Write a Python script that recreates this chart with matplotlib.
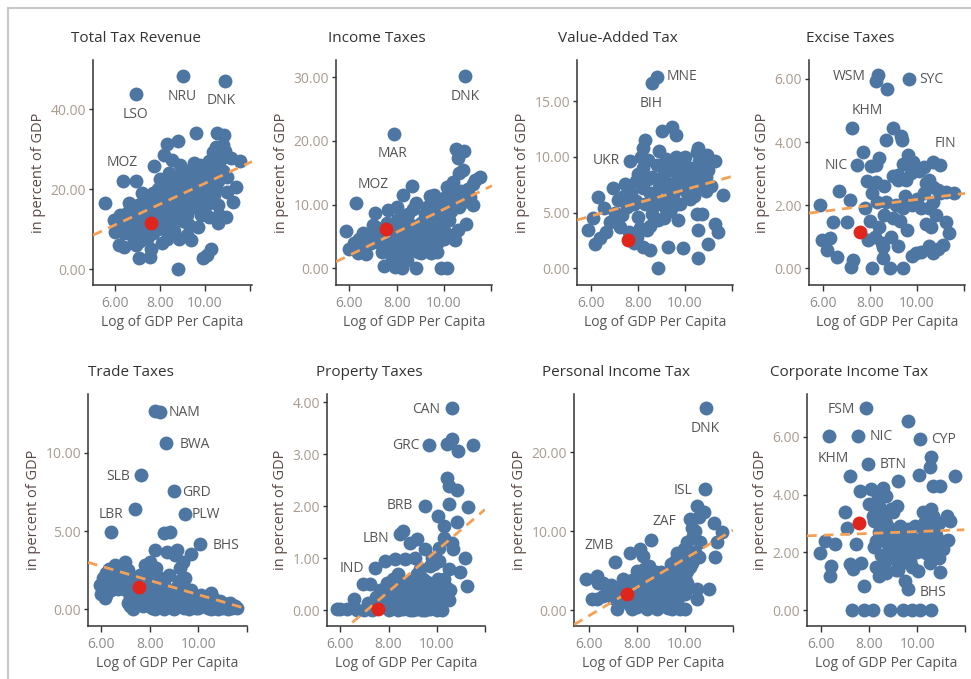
import matplotlib
matplotlib.use("Agg")
import matplotlib.pyplot as plt
from matplotlib.lines import Line2D
import numpy as np

plt.rcParams["font.family"] = ["Open Sans", "DejaVu Sans"]

# Log of GDP per capita (x) against tax share of GDP (y), one list per tax type
total_pts = [
    (6.9, 43.7), (9.0, 48.4), (10.9, 47.1), (5.55, 16.5), (6.33, 22.1), (6.93, 22.1),
    (8.79, 0.0), (7.05, 2.9), (7.54, 3.1), (9.89, 2.9), (10.11, 3.6), (10.29, 5.2),
    (9.62, 34.0), (10.53, 34.0), (10.86, 33.6), (8.29, 31.2), (8.79, 32.1), (11.16, 27.7),
    (11.56, 27.1), (10.34, 29.4), (11.0, 19.4), (11.38, 20.6), (11.23, 16.9), (10.56, 16.1),
    (10.63, 13.6), (10.93, 13.2), (10.56, 11.5), (9.29, 11.1), (9.36, 7.3), (9.81, 13.6),
    (8.32, 7.7), (8.84, 7.7), (6.15, 6.1), (6.37, 5.6), (5.92, 12.3), (6.0, 9.4),
    (7.72, 25.7), (8.17, 28.6), (8.54, 27.3), (6.3, 11.5), (6.5, 14.0), (6.6, 10.0),
    (6.8, 12.5), (6.9, 15.5), (7.0, 9.0), (7.1, 13.0), (7.2, 16.5), (7.3, 11.0),
    (7.4, 7.5), (7.4, 14.0), (7.5, 18.0), (7.7, 9.0), (7.8, 13.5), (7.8, 16.5),
    (7.9, 20.0), (8.0, 11.0), (8.0, 22.5), (8.1, 14.5), (8.2, 18.0), (8.3, 10.0),
    (8.4, 24.0), (8.4, 15.5), (8.5, 20.5), (8.6, 12.5), (8.7, 17.5), (8.7, 23.0),
    (8.8, 14.0), (8.9, 19.5), (8.9, 26.0), (9.0, 16.5), (9.1, 21.5), (9.2, 13.5),
    (9.2, 24.5), (9.3, 18.0), (9.4, 22.0), (9.5, 15.5), (9.5, 26.5), (9.6, 19.5),
    (9.7, 23.5), (9.8, 17.0), (9.9, 21.0), (9.9, 25.5), (10.0, 19.0), (10.1, 23.0),
    (10.2, 27.0), (10.3, 21.5), (10.4, 25.0), (10.5, 30.5), (10.6, 22.0), (10.7, 27.5),
    (10.8, 31.0), (10.4, 18.5), (7.6, 5.0), (6.9, 6.0), (8.1, 6.5), (6.6, 16.5),
    (7.2, 19.0), (8.6, 9.5), (9.0, 12.0), (9.7, 10.5), (10.0, 15.5), (10.2, 13.0),
    (6.2, 13.5), (6.4, 9.0), (6.7, 12.0), (6.8, 8.0), (7.0, 11.5), (7.0, 16.0),
    (7.2, 14.5), (7.3, 8.5), (7.5, 12.5), (7.6, 15.0), (7.7, 19.0), (7.9, 10.0),
    (7.9, 14.0), (8.0, 17.5), (8.2, 12.5), (8.3, 21.0), (8.4, 19.0), (8.5, 14.0),
    (8.6, 22.5), (8.8, 17.0), (8.9, 21.5), (9.0, 23.5), (9.1, 18.5), (9.3, 20.0),
    (9.4, 24.0), (9.6, 21.5), (9.7, 17.5), (9.8, 26.0), (10.0, 24.5), (10.1, 20.5),
    (10.2, 16.5), (10.3, 24.0), (10.5, 20.0), (10.6, 26.5), (10.8, 24.5), (11.0, 23.0),
    (10.9, 29.5), (9.2, 8.5), (8.5, 9.0), (7.1, 7.0),
]
income_pts = [
    (10.91, 30.2), (7.89, 21.1), (6.28, 10.3), (5.86, 5.9), (6.0, 3.0), (6.38, 2.35),
    (7.08, 8.7), (7.47, 0.4), (7.93, 0.2), (8.21, 0.0), (8.84, 0.0), (9.86, 0.0),
    (10.11, 0.0), (8.63, 12.9), (10.5, 18.7), (10.84, 18.4), (10.6, 17.3), (11.23, 9.9),
    (10.93, 7.0), (10.46, 4.4), (11.51, 14.4), (11.23, 13.3), (10.64, 14.9), (10.11, 12.8),
    (9.82, 10.5), (9.58, 11.5), (9.19, 8.6), (9.40, 5.5), (9.44, 2.35), (9.75, 4.2),
    (8.28, 11.5), (8.0, 9.7), (7.65, 9.2), (8.0, 7.6), (8.42, 6.5), (8.14, 4.4),
    (8.73, 5.5), (9.01, 7.1), (9.29, 4.4), (8.59, 2.9), (7.74, 2.9), (7.32, 3.9),
    (6.9, 5.0), (6.6, 3.4), (7.81, 1.3), (8.44, 1.3), (9.01, 2.35), (10.37, 11.8),
    (10.65, 9.7), (10.93, 11.8), (10.23, 7.6), (9.96, 6.5), (9.29, 9.7), (9.57, 8.6),
    (8.5, 8.5), (8.8, 10.2), (9.0, 4.0), (9.2, 6.3), (8.3, 3.2), (8.9, 2.6),
    (7.7, 4.2), (7.2, 6.4), (6.6, 5.6), (6.9, 4.0), (7.4, 2.6), (9.6, 6.8),
    (9.9, 9.0), (10.4, 13.6), (10.8, 15.5), (11.0, 12.4), (10.2, 10.2), (9.4, 11.4),
    (8.1, 6.0), (8.6, 4.2), (8.9, 6.0), (9.1, 3.3), (9.7, 2.6), (10.0, 4.6),
    (7.5, 5.3), (7.9, 5.8), (8.3, 8.0), (6.4, 4.6), (10.7, 12.2), (11.3, 13.9),
    (7.0, 6.8), (7.3, 5.2), (7.6, 7.2), (7.8, 3.5), (8.0, 2.0), (8.2, 5.2),
    (8.4, 3.8), (8.6, 6.8), (8.7, 9.4), (8.8, 3.6), (9.1, 5.6), (9.2, 7.6),
    (9.3, 3.0), (9.5, 9.3), (9.5, 4.3), (9.7, 5.5), (9.8, 8.0), (10.0, 11.0),
    (10.1, 5.5), (10.3, 9.0), (10.5, 11.0), (10.6, 6.0), (10.8, 10.5), (11.1, 11.2),
    (6.7, 2.2), (6.2, 4.0),
]
vat_pts = [
    (8.79, 17.2), (8.58, 16.6), (7.67, 9.65), (8.86, 0.0), (5.85, 3.4), (6.07, 4.5),
    (6.28, 6.4), (6.53, 5.4), (6.14, 2.2), (6.36, 2.7), (6.64, 3.3), (6.93, 7.2),
    (7.43, 7.6), (7.14, 6.1), (8.29, 11.5), (8.21, 10.8), (9.0, 12.3), (9.43, 12.7),
    (9.62, 12.0), (10.58, 10.8), (10.94, 10.2), (11.29, 9.6), (11.65, 6.6), (11.29, 4.0),
    (11.43, 3.3), (11.0, 2.2), (10.58, 0.9), (9.9, 1.8), (9.29, 1.9), (8.5, 1.6),
    (10.5, 4.9), (10.72, 4.9), (10.58, 3.4), (9.72, 4.3), (9.36, 5.1), (8.86, 4.3),
    (8.36, 3.4), (8.07, 3.6), (7.93, 2.8), (8.21, 1.9), (7.21, 3.7), (7.07, 4.3),
    (8.2, 9.0), (8.4, 8.0), (8.5, 6.8), (8.3, 5.8), (8.6, 4.9), (8.8, 9.3),
    (8.9, 7.3), (9.0, 6.0), (9.1, 8.5), (9.2, 5.3), (9.3, 9.3), (9.4, 7.6),
    (9.5, 6.6), (9.6, 10.0), (9.7, 8.3), (9.8, 7.2), (9.9, 9.5), (10.0, 8.0),
    (10.1, 6.8), (10.2, 9.0), (10.3, 7.6), (10.4, 8.5), (10.5, 10.4), (10.6, 7.3),
    (10.7, 9.0), (10.8, 7.8), (10.9, 8.2), (11.1, 7.4), (10.4, 6.5), (7.8, 5.8),
    (7.7, 6.8), (7.9, 7.8), (8.0, 4.6), (8.1, 10.0), (7.5, 5.5), (7.3, 4.8),
    (7.6, 3.3), (7.8, 2.3), (8.7, 5.7), (9.1, 4.5), (9.5, 5.6), (10.1, 8.2),
    (8.0, 8.5), (8.2, 7.2), (8.4, 9.7), (8.6, 8.2), (8.7, 6.3), (8.9, 10.5),
    (9.0, 8.0), (9.2, 9.8), (9.3, 6.8), (9.4, 8.8), (9.6, 7.3), (9.7, 9.2),
    (9.8, 5.8), (9.9, 8.4), (10.0, 10.0), (10.1, 7.6), (10.2, 6.2), (10.3, 8.8),
    (10.5, 7.8), (10.6, 9.6), (10.8, 9.5), (10.9, 6.9), (11.0, 8.8), (7.4, 6.5),
    (7.0, 5.0), (6.8, 4.2), (7.9, 6.0), (8.5, 3.8),
]
excise_pts = [
    (8.34, 6.14), (8.24, 5.92), (8.74, 5.68), (9.65, 6.01), (7.21, 4.44), (7.45, 3.28),
    (10.68, 3.38), (10.97, 3.28), (5.86, 2.01), (7.70, 3.70), (6.68, 2.46), (7.14, 2.17),
    (6.43, 1.48), (5.93, 0.9), (6.14, 0.58), (6.57, 0.37), (6.29, 0.95), (7.28, 0.26),
    (7.18, 0.05), (7.0, 1.48), (8.10, 0.0), (8.84, 0.0), (9.43, 0.0), (8.55, 0.32),
    (8.55, 0.69), (9.80, 0.40), (9.97, 0.48), (10.69, 0.48), (11.11, 0.74), (10.5, 0.7),
    (11.36, 1.11), (11.25, 1.48), (11.6, 2.38), (8.70, 4.07), (8.98, 4.44), (9.34, 4.18),
    (9.38, 4.07), (8.38, 3.49), (8.24, 3.28), (8.06, 3.23), (7.85, 2.75), (8.24, 2.72),
    (9.62, 3.6), (9.83, 3.38), (9.97, 3.17), (10.11, 3.07), (9.77, 3.02), (9.55, 2.8),
    (8.98, 2.91), (9.19, 2.96), (10.4, 2.7), (10.68, 2.59), (10.89, 2.49), (11.25, 2.43),
    (7.8, 1.9), (8.0, 1.5), (8.2, 1.0), (8.3, 2.1), (8.4, 1.3), (8.5, 0.8),
    (8.6, 1.7), (8.7, 2.1), (8.9, 1.0), (9.0, 1.6), (9.1, 2.0), (9.2, 0.7),
    (9.3, 1.5), (9.4, 1.9), (9.5, 2.3), (9.6, 1.2), (9.8, 2.0), (10.0, 2.2),
    (10.2, 1.9), (10.3, 2.4), (10.4, 1.4), (10.5, 1.9), (10.6, 1.3), (10.7, 2.1),
    (10.8, 1.7), (11.0, 2.4), (7.9, 0.9), (8.1, 2.4), (9.2, 2.8), (10.5, 2.8),
    (8.6, 2.6), (9.4, 3.3), (10.3, 3.2), (10.9, 0.6), (10.2, 0.5),
]
trade_pts = [
    (8.19, 12.7), (8.42, 12.6), (8.67, 10.64), (7.65, 8.61), (8.99, 7.54), (9.43, 6.08),
    (7.37, 6.43), (6.38, 4.92), (10.05, 4.16), (9.70, 3.51), (8.6, 4.86), (8.81, 4.97),
    (8.19, 3.79), (8.71, 3.68), (9.02, 3.47), (9.36, 3.04), (9.26, 2.61), (9.13, 3.79),
    (7.99, 3.04), (7.78, 2.83), (8.26, 2.61), (7.92, 2.4), (9.43, 1.97), (9.5, 1.32),
    (10.5, 1.05), (6.96, 3.0), (6.55, 2.83), (6.21, 2.29), (6.07, 1.97), (5.93, 1.54),
    (6.0, 1.0), (6.14, 0.73), (7.0, 1.2), (7.2, 0.8), (7.4, 1.8), (7.5, 0.5),
    (7.8, 1.0), (7.9, 0.3), (8.0, 1.7), (8.1, 0.6), (8.3, 1.2), (8.4, 0.2),
    (8.5, 0.9), (8.6, 1.6), (8.7, 0.4), (8.8, 1.1), (8.9, 0.1), (9.0, 0.7),
    (9.1, 1.4), (9.2, 0.3), (9.3, 0.9), (9.4, 0.1), (9.5, 0.6), (9.6, 1.1),
    (9.7, 0.3), (9.8, 0.7), (9.9, 0.1), (10.0, 0.5), (10.1, 0.9), (10.2, 0.2),
    (10.3, 0.6), (10.4, 0.1), (10.5, 0.4), (10.6, 0.7), (10.7, 0.1), (10.8, 0.3),
    (10.9, 0.5), (11.0, 0.1), (11.1, 0.3), (11.2, 0.2), (11.3, 0.4), (11.4, 0.1),
    (11.5, 0.2), (11.6, 0.1), (6.3, 2.6), (6.5, 1.8), (6.6, 2.3), (6.8, 2.7),
    (6.9, 1.5), (7.0, 2.0), (7.1, 2.5), (7.3, 1.2), (6.4, 1.2), (6.2, 0.9),
    (7.7, 0.2), (8.2, 0.0), (8.6, 0.0), (9.0, 0.0), (7.2, 0.2), (7.6, 2.2),
    (7.1, 0.4), (7.3, 0.0), (7.6, 0.8), (7.9, 1.3), (8.1, 0.1), (8.3, 0.6),
    (8.5, 0.2), (8.7, 1.0), (8.9, 0.6), (9.1, 0.2), (9.3, 0.4), (9.5, 1.0),
    (9.6, 0.0), (9.8, 0.2), (10.0, 0.1), (10.1, 0.4), (10.3, 0.2), (10.5, 0.0),
    (10.6, 0.3), (10.8, 0.0), (11.0, 0.4), (11.2, 0.0), (11.4, 0.3), (8.4, 2.0),
    (8.8, 2.2), (9.2, 1.8), (9.7, 1.2), (6.7, 1.3), (6.1, 1.5), (7.2, 1.5),
]
property_pts = [
    (10.63, 3.89), (9.69, 3.18), (10.41, 3.2), (10.62, 3.29), (10.89, 3.07), (11.51, 3.17),
    (9.51, 2.01), (10.41, 2.54), (10.52, 2.4), (10.82, 2.32), (10.52, 2.04), (11.30, 1.98),
    (10.06, 1.82), (10.30, 1.62), (10.85, 1.70), (8.48, 1.46), (8.62, 1.53), (8.89, 1.30),
    (9.17, 1.37), (9.51, 1.18), (7.45, 0.82), (7.86, 0.95), (8.27, 0.98), (8.69, 0.98),
    (10.62, 1.30), (10.68, 1.18), (11.17, 1.0), (10.52, 0.79), (10.96, 0.73), (11.24, 0.47),
    (10.55, 0.40), (9.72, 0.85), (10.06, 0.60), (9.44, 0.60), (6.55, 0.21), (6.0, 0.02),
    (6.28, 0.02), (5.86, 0.02), (6.96, 0.5), (7.24, 0.5), (7.65, 0.4), (7.93, 0.53),
    (7.17, 0.15), (8.07, 0.02), (8.62, 0.02), (9.17, 0.02), (9.72, 0.02), (10.13, 0.02),
    (8.20, 0.60), (8.48, 0.40), (9.03, 0.6), (9.31, 0.4), (8.89, 0.21), (8.3, 0.2),
    (8.8, 0.1), (9.2, 0.3), (9.6, 0.2), (10.0, 0.35), (10.3, 0.6), (9.9, 0.9),
    (9.3, 0.8), (8.9, 0.55), (8.5, 0.3), (7.9, 0.15), (7.7, 0.1), (9.0, 0.0),
    (9.4, 0.0), (8.0, 0.0), (8.4, 0.0), (10.2, 0.0), (9.8, 0.3), (10.5, 0.2),
    (9.6, 0.55), (8.1, 0.3), (8.7, 0.25), (10.1, 0.95), (9.1, 1.0), (7.3, 0.0),
    (7.5, 0.25), (7.8, 0.3), (8.1, 0.5), (8.3, 0.45), (8.6, 0.55), (8.8, 0.35),
    (9.0, 0.3), (9.1, 0.5), (9.3, 0.2), (9.5, 0.35), (9.7, 0.5), (9.9, 0.1),
    (10.1, 0.25), (10.4, 0.45), (8.2, 0.1), (8.9, 0.0), (9.5, 0.0), (10.0, 0.0),
    (7.0, 0.0), (6.7, 0.0), (9.2, 0.7), (8.4, 0.7), (9.8, 1.0), (10.3, 1.4),
    (10.1, 1.2),
]
personal_pts = [
    (10.88, 25.6), (10.84, 15.4), (8.57, 8.9), (7.08, 6.05), (5.86, 4.0), (6.31, 4.35),
    (6.38, 3.5), (6.1, 1.4), (6.31, 1.4), (6.59, 1.8), (6.87, 2.0), (7.15, 0.13),
    (7.77, 0.13), (8.40, 0.13), (8.82, 0.13), (9.45, 0.13), (9.8, 0.13), (10.0, 0.13),
    (7.70, 7.3), (8.12, 7.7), (8.26, 6.9), (8.68, 4.8), (8.75, 3.5), (9.1, 3.9),
    (9.66, 7.3), (9.80, 6.05), (10.08, 8.6), (9.94, 7.7), (10.5, 13.2), (10.77, 12.4),
    (10.21, 11.5), (10.42, 10.1), (10.35, 9.4), (10.63, 8.6), (11.19, 11.1), (11.54, 9.9),
    (11.33, 8.6), (11.26, 6.7), (10.98, 2.75), (10.49, 2.75), (10.08, 3.5), (9.72, 1.6),
    (10.49, 1.4), (7.8, 3.8), (7.9, 1.0), (8.0, 5.0), (8.1, 2.5), (8.2, 3.8),
    (8.3, 1.2), (8.4, 4.4), (8.5, 2.0), (8.6, 3.2), (8.7, 0.9), (8.8, 2.6),
    (8.9, 4.2), (9.0, 1.5), (9.1, 2.8), (9.2, 0.8), (9.3, 3.5), (9.4, 2.2),
    (9.5, 4.5), (9.6, 1.2), (9.7, 3.0), (9.8, 5.2), (9.9, 2.5), (10.0, 4.2),
    (10.1, 6.5), (10.2, 5.5), (9.6, 6.2), (9.4, 5.8), (7.3, 2.8), (7.6, 3.5),
    (7.0, 1.5), (6.8, 2.2), (7.7, 0.6), (8.0, 0.4), (10.6, 11.8), (10.3, 10.4),
    (8.5, 5.6), (9.0, 4.8), (9.3, 1.9), (8.9, 0.4), (9.9, 4.0), (10.3, 6.0),
    (7.6, 1.0), (7.9, 2.2), (8.1, 3.2), (8.3, 5.2), (8.5, 3.6), (8.6, 1.4),
    (8.8, 4.9), (9.0, 2.2), (9.2, 4.2), (9.3, 0.3), (9.5, 2.8), (9.6, 3.8),
    (9.7, 0.5), (9.8, 3.4), (10.0, 2.0), (10.1, 5.0), (10.2, 7.2), (10.4, 7.4),
    (9.9, 7.0), (10.6, 6.8), (6.6, 3.4), (6.9, 3.2), (7.2, 1.2), (7.4, 4.0),
    (8.2, 1.6), (8.4, 0.6),
]
corporate_pts = [
    (7.88, 6.99), (9.62, 6.53), (6.32, 6.01), (7.51, 6.01), (10.11, 5.92), (7.95, 5.05),
    (7.18, 4.65), (9.21, 4.47), (10.08, 4.67), (10.53, 4.94), (10.60, 5.28), (11.58, 4.65),
    (10.67, 4.30), (10.95, 4.30), (7.60, 4.13), (8.09, 4.19), (8.58, 4.24), (8.37, 3.96),
    (8.72, 3.96), (8.0, 3.67), (9.14, 3.61), (9.0, 3.38), (6.97, 3.40), (7.05, 2.86),
    (8.16, 3.26), (8.58, 3.32), (10.25, 3.38), (10.67, 3.26), (11.23, 3.26), (11.37, 3.09),
    (5.93, 1.98), (6.14, 2.40), (6.56, 2.28), (6.42, 1.53), (6.35, 1.19), (7.18, 1.59),
    (7.32, 1.42), (7.67, 1.65), (7.46, 2.28), (7.77, 0.84), (7.26, 0.01), (7.77, 0.01),
    (8.16, 0.01), (8.86, 0.01), (9.41, 0.01), (9.77, 0.02), (10.11, 0.01), (10.56, 0.01),
    (9.49, 1.01), (9.62, 0.73), (9.69, 1.65), (10.04, 1.36), (10.53, 1.65), (10.95, 1.33),
    (11.3, 2.43), (10.81, 2.22), (11.09, 2.11), (10.39, 1.99), (8.2, 2.2), (8.3, 1.5),
    (8.4, 2.7), (8.5, 1.9), (8.6, 2.4), (8.7, 1.3), (8.8, 2.0), (8.9, 2.8),
    (9.0, 1.8), (9.1, 2.5), (9.2, 2.0), (9.3, 1.6), (9.4, 2.6), (9.5, 2.2),
    (9.6, 2.8), (9.7, 1.7), (9.8, 2.4), (9.9, 2.9), (10.0, 2.0), (10.2, 2.5),
    (10.4, 2.9), (10.5, 2.3), (10.6, 2.7), (10.7, 1.9), (8.2, 3.1), (8.7, 3.0),
    (9.3, 2.9), (10.8, 2.6), (11.2, 2.4), (8.4, 1.2), (9.1, 1.4), (10.3, 3.0),
    (8.3, 2.4), (8.5, 2.9), (8.6, 1.6), (8.8, 2.6), (9.0, 2.2), (9.2, 1.4),
    (9.4, 1.9), (9.6, 2.0), (9.8, 1.5), (9.9, 2.1), (10.1, 2.2), (10.3, 2.6),
    (10.5, 2.0), (10.7, 2.3), (10.9, 1.8), (8.9, 3.5), (9.7, 2.6), (10.6, 3.5),
    (10.9, 3.0), (8.4, 3.6),
]

titles = ["Total Tax Revenue", "Income Taxes", "Value-Added Tax", "Excise Taxes",
          "Trade Taxes", "Property Taxes", "Personal Income Tax", "Corporate Income Tax"]
panel_pts = [total_pts, income_pts, vat_pts, excise_pts,
             trade_pts, property_pts, personal_pts, corporate_pts]

# highlighted country, same GDP per capita in every panel
highlight_x = 7.57
highlight_y = [11.5, 6.2, 2.5, 1.16, 1.43, 0.02, 2.1, 3.01]

# linear trend (intercept, slope) per panel
trend_intercept = [-4.4, -8.8, 1.16, 1.24, 5.47, -2.8, -11.53, 2.40]
trend_slope = [2.59, 1.81, 0.59, 0.094, -0.454, 0.395, 1.806, 0.032]

# country codes: (name, x, y, horizontal alignment)
labels = [
    [("LSO", 6.90, 38.8, "center"), ("NRU", 8.99, 43.3, "center"),
     ("DNK", 10.71, 42.3, "center"), ("MOZ", 6.30, 26.7, "center")],
    [("DNK", 10.88, 27.0, "center"), ("MAR", 7.83, 18.05, "center"),
     ("MOZ", 6.99, 13.2, "center")],
    [("MNE", 9.22, 17.25, "left"), ("BIH", 8.55, 14.8, "center"),
     ("UKR", 6.64, 9.65, "center")],
    [("WSM", 7.11, 6.08, "center"), ("SYC", 10.64, 5.98, "center"),
     ("KHM", 7.89, 5.0, "center"), ("FIN", 11.21, 3.95, "center"),
     ("NIC", 6.57, 3.26, "center")],
    [("NAM", 9.43, 12.6, "center"), ("BWA", 9.84, 10.5, "center"),
     ("SLB", 6.68, 8.5, "center"), ("GRD", 9.91, 7.47, "center"),
     ("PLW", 10.32, 6.04, "center"), ("LBR", 6.38, 6.04, "center"),
     ("BHS", 11.12, 4.05, "center")],
    [("CAN", 9.58, 3.87, "center"), ("GRC", 8.71, 3.17, "center"),
     ("BRB", 8.45, 2.01, "center"), ("LBN", 7.47, 1.39, "center"),
     ("IND", 6.48, 0.81, "center")],
    [("DNK", 10.84, 23.06, "center"), ("ISL", 9.93, 15.14, "center"),
     ("ZAF", 9.13, 11.2, "center"), ("ZMB", 6.42, 8.25, "center")],
    [("FSM", 6.84, 6.93, "center"), ("NIC", 8.51, 6.01, "center"),
     ("KHM", 6.49, 5.25, "center"), ("CYP", 11.12, 5.89, "center"),
     ("BTN", 9.0, 5.03, "center"), ("BHS", 10.67, 0.63, "center")],
]

y_ticks = [[0, 20, 40], [0, 10, 20, 30], [0, 5, 10, 15], [0, 2, 4, 6],
           [0, 5, 10], [0, 1, 2, 3, 4], [0, 10, 20], [0, 2, 4, 6]]
y_limits = [(-3.9, 52.3), (-2.6, 32.7), (-1.5, 18.7), (-0.53, 6.6),
            (-1.07, 13.76), (-0.30, 4.16), (-2.0, 27.4), (-0.54, 7.47)]
x_limits = [(5.0, 12.1), (5.44, 12.03), (5.38, 12.06), (5.39, 12.06),
            (5.45, 11.96), (5.45, 12.0), (5.37, 12.0), (5.4, 11.97)]

# axes boxes in pixels: left, top, right, bottom
boxes = [(93, 60, 252, 285), (336, 60, 492, 285), (577, 60, 733, 285), (809, 60, 965, 285),
         (88, 394, 247, 626), (327, 394, 485, 626), (574, 394, 733, 626), (807, 394, 965, 626)]

W, H = 971, 679
fig = plt.figure(figsize=(W / 100, H / 100), dpi=100)
fig.patch.set_facecolor("white")

# dashboard frame
fig.add_artist(Line2D([8 / W, 8 / W], [0, 1 - 8 / H], transform=fig.transFigure,
                      color="#c8c8c8", lw=1.5))
fig.add_artist(Line2D([8 / W, 1], [1 - 8 / H, 1 - 8 / H], transform=fig.transFigure,
                      color="#c8c8c8", lw=1.5))

blue = "#4e76a3"
red = "#e0261c"
orange = "#f5a055"

for i in range(8):
    l, t, r, b = boxes[i]
    ax = fig.add_axes([l / W, 1 - b / H, (r - l) / W, (b - t) / H])
    pts = np.array(panel_pts[i])
    ax.scatter(pts[:, 0], pts[:, 1], s=100, color=blue, linewidths=0, zorder=2)
    xs = np.array(x_limits[i])
    ax.plot(xs, trend_intercept[i] + trend_slope[i] * xs, color=orange, lw=2,
            ls=(0, (3.5, 2.5)), zorder=3)
    ax.scatter([highlight_x], [highlight_y[i]], s=100, color=red, linewidths=0, zorder=4)
    for name, lx, ly, ha in labels[i]:
        ax.text(lx, ly, name, ha=ha, va="center", fontsize=10, color="#555555", zorder=5)

    ax.set_xlim(*x_limits[i])
    ax.set_ylim(*y_limits[i])
    ax.set_xticks([6, 8, 10, 12])
    ax.set_xticklabels(["6.00", "8.00", "10.00", ""])
    ax.set_yticks(y_ticks[i])
    ax.set_yticklabels(["%.2f" % v for v in y_ticks[i]])
    for side in ("top", "right"):
        ax.spines[side].set_visible(False)
    for side in ("left", "bottom"):
        ax.spines[side].set_color("#333333")
        ax.spines[side].set_linewidth(1.1)
    ax.tick_params(axis="x", length=4, width=1, color="#333333", labelsize=10,
                   labelcolor="#8c8c8c", pad=4)
    ax.tick_params(axis="y", length=3, width=1, color="#333333", labelsize=10,
                   labelcolor="#a89c90", pad=2)
    ax.set_xlabel("Log of GDP Per Capita", fontsize=10, color="#555555", labelpad=3)
    ax.set_ylabel("in percent of GDP", fontsize=10.5, color="#5a4a45", labelpad=3)

    ty = 38 if i < 4 else 372
    fig.text(((l + r) / 2 - 37) / W, 1 - ty / H, titles[i], ha="center", va="center",
             fontsize=11, color="#333333")

fig.savefig("out.png", dpi=100)
